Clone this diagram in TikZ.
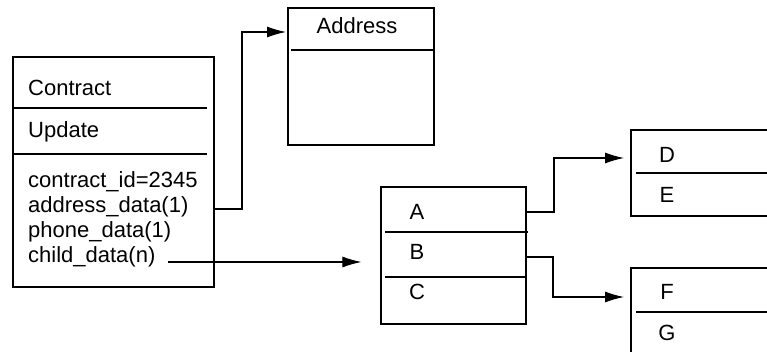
\documentclass[tikz,border=0pt]{standalone}
\usepackage{fontspec}
\setmainfont{Liberation Sans}
\usetikzlibrary{arrows.meta}
\begin{document}
\begin{tikzpicture}[x=1pt,y=-1pt,
  box/.style={draw, line width=1.2pt, rectangle, inner sep=0pt},
  divider/.style={line width=1.2pt},
  conn/.style={line width=1.1pt},
  arr/.style={conn, -{Latex[length=19pt,width=11pt]}},
  lbl/.style={anchor=west, inner sep=0pt, font=\fontsize{22}{24}\selectfont},
  clbl/.style={inner sep=0pt, font=\fontsize{22}{24}\selectfont}]
\useasboundingbox (0,0) rectangle (767,352);
\clip (0,0) rectangle (767,352);
% boxes
\node[box, minimum width=201pt, minimum height=230pt] (contract) at (113.5,172) {};
\node[box, minimum width=146pt, minimum height=137pt] (address) at (361,76.5) {};
\node[box, minimum width=145pt, minimum height=137pt] (abc) at (453.5,255.5) {};
\node[box, minimum width=169pt, minimum height=86pt] (de) at (715.5,173) {};
\node[box, minimum width=169pt, minimum height=132pt] (fg) at (715.5,334) {};
% dividers
\draw[divider] (13,108) -- (207,108);
\draw[divider] (13,154) -- (207,154);
\draw[divider] (291,50) -- (434,50);
\draw[divider] (385,232) -- (528,232);
\draw[divider] (385,277) -- (525,277);
\draw[divider] (636,173) -- (800,173);
\draw[divider] (636,312) -- (800,312);
% texts
\node[lbl] (tcontract) at (28,88) {Contract};
\node[lbl] (tupdate) at (28,132) {Update};
\node[lbl] (tid) at (28,182) {contract\_id=2345};
\node[lbl] (taddr) at (28,207) {address\_data(1)};
\node[lbl] (tphone) at (28,232) {phone\_data(1)};
\node[lbl] (tchild) at (28,257) {child\_data(n)};
\node[clbl] (taddress) at (357,26) {Address};
\node[clbl] (ta) at (417,212) {A};
\node[clbl] (tb) at (417,252) {B};
\node[clbl] (tc) at (417,292) {C};
\node[clbl] (td) at (667,155) {D};
\node[clbl] (te) at (667,195) {E};
\node[clbl] (tf) at (667,292) {F};
\node[clbl] (tg) at (667,333) {G};
% connectors
\coordinate (addrin) at (286,32);
\coordinate (din) at (624,158);
\coordinate (fin) at (624,297);
\draw[arr] (contract.east |- 0,209) -- (242,209) |- (addrin);
\draw[arr] ([xshift=12pt]tchild.east |- 0,262) -- ([xshift=-19pt]abc.west |- 0,262);
\draw[arr] (abc.east |- 0,212) -- (554,212) |- (din);
\draw[arr] (abc.east |- 0,257) -- (553,257) |- (fin);
\end{tikzpicture}
\end{document}
